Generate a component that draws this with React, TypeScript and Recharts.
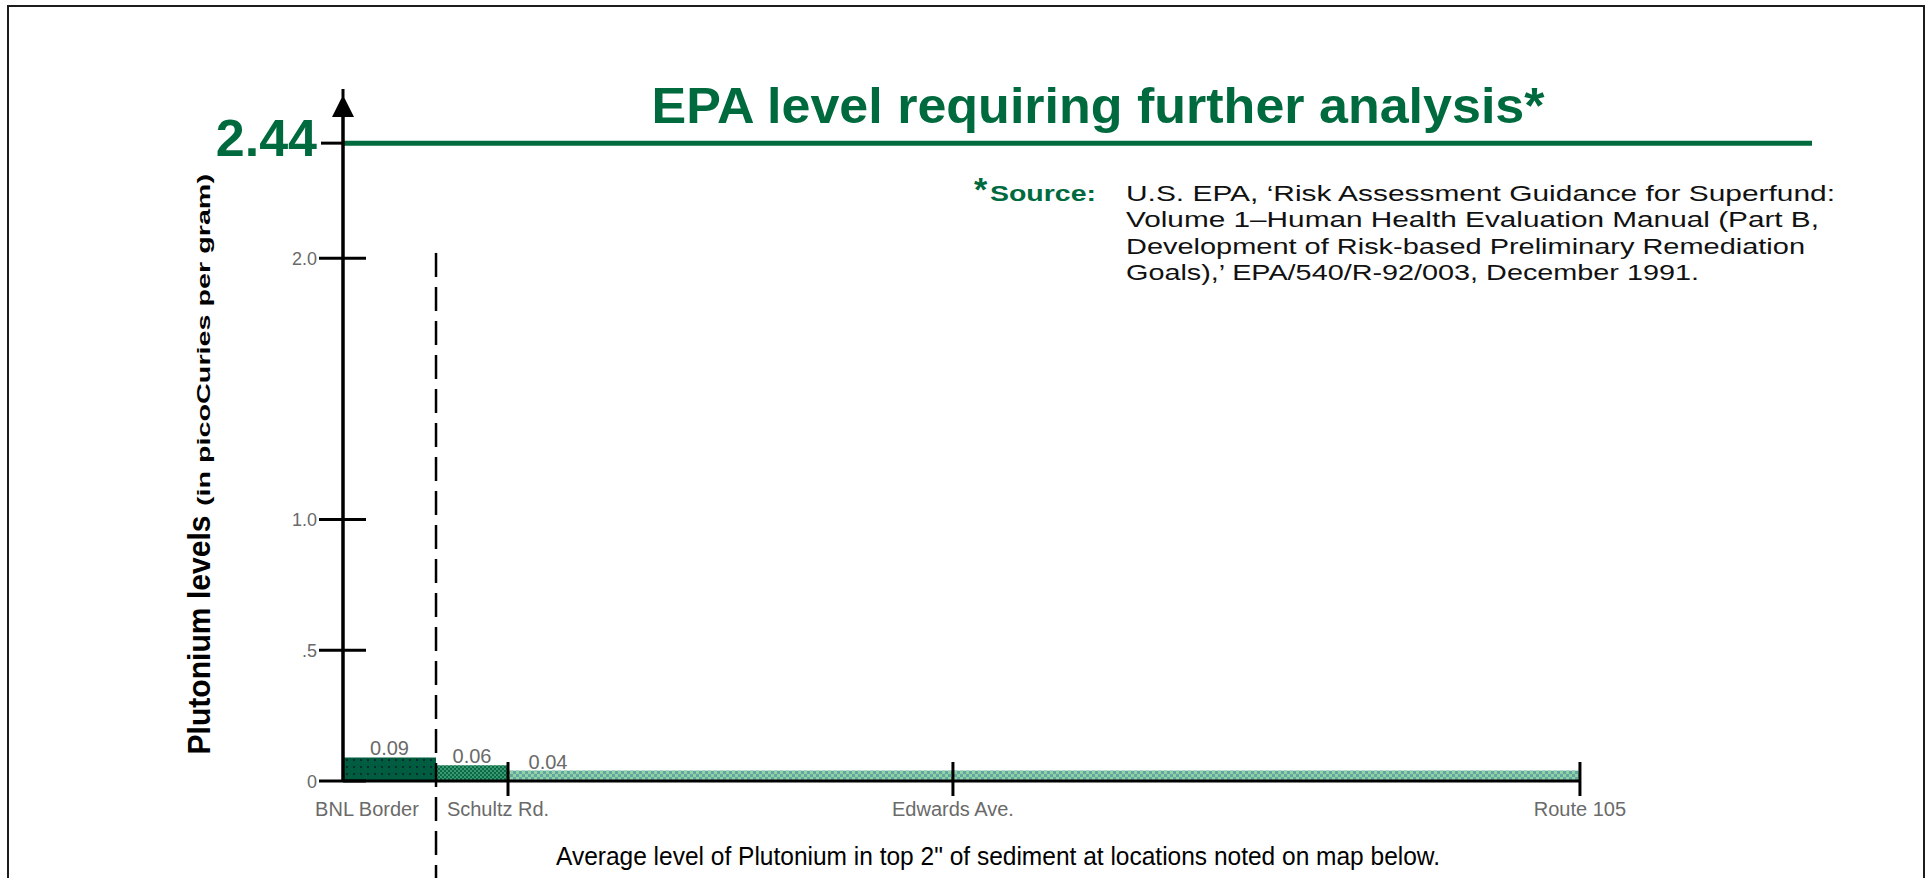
import { ComposedChart, XAxis, YAxis, ReferenceLine, ReferenceArea } from "recharts";

const GREEN = "#006a3f";
const GRAY = "#6a6a6a";
const FONT = "'Liberation Sans', Arial, Helvetica, sans-serif";

// sampling locations along the stream, x (Route 105 = 100)
const locations = ["BNL Border", "Schultz Rd.", "Edwards Ave.", "Route 105"];
const locationX = [1.94, 13.34, 49.31, 100];
const locationMarked = [false, true, true, true];

// average plutonium level per stretch (pCi/g)
const stretchFrom = [0, 7.52, 13.34];
const stretchTo = [7.52, 13.34, 100];
const stretchLevel = [0.09, 0.06, 0.04];
const stretchFill = ["url(#fillBnl)", "url(#fillSchultz)", "url(#fillRoute)"];

const borderX = 7.52;
const epaLevel = 2.44;
const yTicks = [0, 0.5, 1, 2, 2.44];
const yTickLabels = ["0", ".5", "1.0", "2.0", "2.44"];

const sourceLines = [
  "U.S. EPA, \u2018Risk Assessment Guidance for Superfund:",
  "Volume 1\u2013Human Health Evaluation Manual (Part B,",
  "Development of Risk-based Preliminary Remediation",
  "Goals),\u2019 EPA/540/R-92/003, December 1991.",
];

const YTick = (props: any) => {
  const { x, y, payload } = props;
  const label = yTickLabels[yTicks.indexOf(payload.value)];
  if (payload.value === epaLevel) {
    return (
      <g>
        <line x1={x - 22} x2={x} y1={y} y2={y} stroke="#000" strokeWidth={3} />
        <text x={x - 26} y={y + 13} textAnchor="end" fontSize={52} fontWeight="bold" fill={GREEN} fontFamily={FONT}>
          {label}
        </text>
      </g>
    );
  }
  return (
    <g>
      <line x1={x - 24} x2={x + 23} y1={y} y2={y} stroke="#000" strokeWidth={3} />
      <text x={x - 26} y={y + 6.5} textAnchor="end" fontSize={18} fill={GRAY} fontFamily={FONT}>
        {label}
      </text>
    </g>
  );
};

const XTick = (props: any) => {
  const { x, y, payload } = props;
  const i = locationX.indexOf(payload.value);
  // the label just past the dashed border line is pulled a little to the left
  const dx = i > 0 && locationX[i] - borderX < 8 ? -10 : 0;
  return (
    <g>
      {locationMarked[i] && <line x1={x} x2={x} y1={y - 19} y2={y + 15} stroke="#000" strokeWidth={3} />}
      <text x={x + dx} y={y + 35} textAnchor="middle" fontSize={20} fill={GRAY} fontFamily={FONT}>
        {locations[i]}
      </text>
    </g>
  );
};

const levelLabel = (text: string) => (props: any) => {
  const vb = props.viewBox;
  // long stretch: label sits near its start, otherwise centred
  const cx = vb.width > 300 ? vb.x + 40 : vb.x + vb.width / 2;
  return (
    <text x={cx} y={vb.y - 2} textAnchor="middle" fontSize={20} fill={GRAY} fontFamily={FONT}>
      {text}
    </text>
  );
};

export default function App() {
  const sourceWidths = [709, 693, 679, 573];
  return (
    <div style={{ position: "fixed", left: 0, top: 0, width: 1925, height: 878, overflow: "hidden", background: "#fff" }}>
      <div
        style={{
          position: "absolute",
          left: 7,
          top: 5,
          width: 1918,
          height: 1000,
          border: "2px solid #1c1c1c",
          boxSizing: "border-box",
        }}
      />
      <div style={{ position: "absolute", left: 0, top: 0 }}>
        <ComposedChart width={1925} height={878} margin={{ top: 117, right: 113, bottom: 37, left: 0 }}>
          <defs>
            <marker id="arrowUp" markerUnits="userSpaceOnUse" markerWidth={24} markerHeight={30} refX={11} refY={28} orient="0">
              <path d="M9.5 0 L12.5 0 L12.5 9 L22 28 L0 28 L9.5 9 Z" fill="#000" />
            </marker>
            <pattern id="fillBnl" width={7} height={7} patternUnits="userSpaceOnUse">
              <rect width={7} height={7} fill="#005d3b" />
              <rect x={0} y={0} width={1} height={1} fill="#0d5a62" />
              <rect x={2} y={0} width={1} height={1} fill="#0d5a62" />
              <rect x={1} y={5} width={1} height={1} fill="#0d5a62" />
              <rect x={5} y={1} width={1} height={1} fill="#0d5a62" />
              <rect x={3} y={3} width={2} height={2} fill="#0a2c3a" />
            </pattern>
            <pattern id="fillSchultz" width={4} height={4} patternUnits="userSpaceOnUse">
              <rect width={4} height={4} fill="#0a6a44" />
              <rect x={0} y={0} width={2} height={2} fill="#3a9872" />
              <rect x={2} y={2} width={2} height={2} fill="#3a9872" />
            </pattern>
            <pattern id="fillRoute" width={6} height={6} patternUnits="userSpaceOnUse">
              <rect width={6} height={6} fill="#92d2a2" />
              <rect x={0} y={0} width={3} height={3} fill="#62a6a4" />
              <rect x={3} y={3} width={3} height={3} fill="#62a6a4" />
            </pattern>
          </defs>
          <XAxis
            type="number"
            dataKey="x"
            domain={[0, 118.76]}
            allowDataOverflow
            ticks={locationX}
            interval={0}
            axisLine={false}
            tickLine={false}
            tickSize={0}
            tickMargin={0}
            height={60}
            tick={<XTick />}
          />
          <YAxis
            type="number"
            domain={[0, 2.54]}
            allowDataOverflow
            ticks={yTicks}
            interval={0}
            width={343}
            axisLine={{ stroke: "#000", strokeWidth: 3.5, markerStart: "url(#arrowUp)" }}
            tickLine={false}
            tickSize={0}
            tickMargin={0}
            tick={<YTick />}
          />
          {stretchLevel.map((v, i) => (
            <ReferenceArea
              key={i}
              x1={stretchFrom[i]}
              x2={stretchTo[i]}
              y1={0}
              y2={v}
              fill={stretchFill[i]}
              fillOpacity={1}
              stroke="none"
              ifOverflow="visible"
              label={levelLabel(v.toFixed(2))}
            />
          ))}
          <ReferenceLine y={epaLevel} stroke={GREEN} strokeWidth={5} ifOverflow="visible" />
          <ReferenceLine
            segment={[{ x: 0, y: 0 }, { x: 100, y: 0 }]}
            stroke="#000"
            strokeWidth={3}
            ifOverflow="visible"
          />
          <ReferenceLine
            segment={[{ x: borderX, y: 2.02 }, { x: borderX, y: -0.45 }]}
            stroke="#000"
            strokeWidth={2.5}
            strokeDasharray="24 10"
            ifOverflow="visible"
          />
        </ComposedChart>
      </div>
      <svg
        width={1925}
        height={878}
        style={{ position: "absolute", left: 0, top: 0, pointerEvents: "none" }}
        fontFamily={FONT}
      >
        <text x={1098} y={123} textAnchor="middle" fontSize={50} fontWeight="bold" fill={GREEN} textLength={893} lengthAdjust="spacingAndGlyphs">
          EPA level requiring further analysis*
        </text>
        <text x={974} y={201} fontSize={34} fontWeight="bold" fill={GREEN}>
          *
        </text>
        <text x={990} y={201} fontSize={22} fontWeight="bold" fill={GREEN} textLength={106} lengthAdjust="spacingAndGlyphs">
          Source:
        </text>
        {sourceLines.map((s, i) => (
          <text key={i} x={1126} y={201 + i * 26.4} fontSize={22} fill="#111" textLength={sourceWidths[i]} lengthAdjust="spacingAndGlyphs">
            {s}
          </text>
        ))}
        <text
          x={210}
          y={635}
          transform="rotate(-90 210 635)"
          textAnchor="middle"
          fontSize={32}
          fontWeight="bold"
          fill="#000"
          textLength={239}
          lengthAdjust="spacingAndGlyphs"
        >
          Plutonium levels
        </text>
        <text
          x={210}
          y={340}
          transform="rotate(-90 210 340)"
          textAnchor="middle"
          fontSize={19}
          fontWeight="bold"
          fill="#000"
          textLength={332}
          lengthAdjust="spacingAndGlyphs"
        >
          (in picoCuries per gram)
        </text>
        <text x={556} y={865} fontSize={25} fill="#000" textLength={884} lengthAdjust="spacingAndGlyphs">
          Average level of Plutonium in top 2" of sediment at locations noted on map below.
        </text>
      </svg>
    </div>
  );
}
